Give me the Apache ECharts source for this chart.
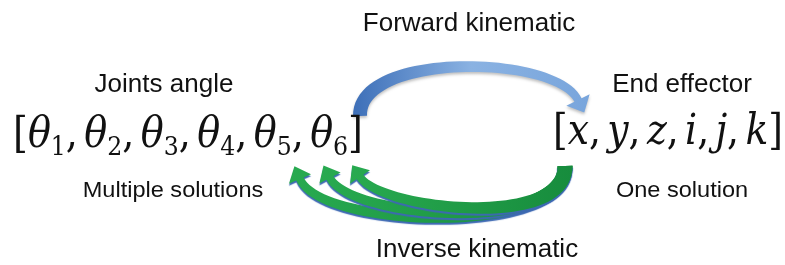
<!DOCTYPE html>
<html>
<head>
<meta charset="utf-8">
<script src="https://cdn.jsdelivr.net/npm/echarts@6/dist/echarts.min.js"></script>
<style>
html, body { margin: 0; padding: 0; background: #fff; }
#chart { width: 785px; height: 265px; }
</style>
</head>
<body>
<div id="chart"></div>
<script>
// texts of the diagram
var captions = ['Joints angle', 'End effector', 'Multiple solutions', 'One solution'];
var flowNames = ['Forward kinematic', 'Inverse kinematic'];
var jointIndex = [1, 2, 3, 4, 5, 6];
var effectorVars = ['x', 'y', 'z', 'i', 'j', 'k'];

var textColor = '#111111';
var labelFont = 'Liberation Sans';
var mathFont = 'DejaVu Serif';

var myChart = echarts.init(document.getElementById('chart'));

// cubic bezier helpers
function bez(p, t) {
  var u = 1 - t;
  return [
    u * u * u * p[0][0] + 3 * u * u * t * p[1][0] + 3 * u * t * t * p[2][0] + t * t * t * p[3][0],
    u * u * u * p[0][1] + 3 * u * u * t * p[1][1] + 3 * u * t * t * p[2][1] + t * t * t * p[3][1]
  ];
}
function bezDir(p, t) {
  var u = 1 - t;
  var dx = 3 * u * u * (p[1][0] - p[0][0]) + 6 * u * t * (p[2][0] - p[1][0]) + 3 * t * t * (p[3][0] - p[2][0]);
  var dy = 3 * u * u * (p[1][1] - p[0][1]) + 6 * u * t * (p[2][1] - p[1][1]) + 3 * t * t * (p[3][1] - p[2][1]);
  var l = Math.sqrt(dx * dx + dy * dy) || 1;
  return [dx / l, dy / l];
}
// curved arrow as one polygon: tapering shaft + triangle head
function arrowPoints(p, w0, w1, headLen, headW) {
  var n = 48, left = [], right = [];
  for (var i = 0; i <= n; i++) {
    var t = i / n;
    var pt = bez(p, t), d = bezDir(p, t);
    var w = (w0 + (w1 - w0) * t) / 2;
    left.push([pt[0] - d[1] * w, pt[1] + d[0] * w]);
    right.push([pt[0] + d[1] * w, pt[1] - d[0] * w]);
  }
  var e = p[3], d1 = bezDir(p, 1), h = headW / 2;
  var head = [
    [e[0] - d1[1] * h, e[1] + d1[0] * h],
    [e[0] + d1[0] * headLen, e[1] + d1[1] * headLen],
    [e[0] + d1[1] * h, e[1] - d1[0] * h]
  ];
  return left.concat(head, right.reverse());
}

// measure a rich string to fit the target width
var ctx = document.createElement('canvas').getContext('2d');
function richWidth(tokens) {
  var w = 0;
  tokens.forEach(function (tk) {
    ctx.font = tk[0];
    w += ctx.measureText(tk[1]).width;
  });
  return w;
}

var mathRich = {
  b: { fontFamily: mathFont, fontSize: 42, lineHeight: 50, fill: textColor },
  p: { fontFamily: mathFont, fontSize: 42, lineHeight: 50, fill: textColor },
  q: { fontFamily: mathFont, fontSize: 22, lineHeight: 50, fill: textColor },
  v: { fontFamily: mathFont, fontStyle: 'italic', fontSize: 42, lineHeight: 50, fill: textColor },
  s: { fontFamily: mathFont, fontSize: 26, lineHeight: 24, verticalAlign: 'bottom', fill: textColor }
};
var F_UP = '42px "' + mathFont + '"', F_IT = 'italic 42px "' + mathFont + '"',
    F_SUB = '26px "' + mathFont + '"', F_SP = '22px "' + mathFont + '"';

function vectorItem(left, top, width, items, tokens) {
  var text = '{b|[}' + items.join('{p|,}{q| }') + '{b|]}';
  var all = [[F_UP, '[']];
  tokens.forEach(function (tk, i) {
    if (i > 0) all.push([F_UP, ','], [F_SP, ' ']);
    all = all.concat(tk);
  });
  all.push([F_UP, ']']);
  return {
    type: 'text', x: left, y: top, scaleX: width / richWidth(all), z: 10,
    style: { text: text, x: 0, y: 0, align: 'left', verticalAlign: 'top', rich: mathRich }
  };
}

var jointItems = jointIndex.map(function (n) { return '{v|θ}{s|' + n + '}'; });
var jointTokens = jointIndex.map(function (n) { return [[F_IT, 'θ'], [F_SUB, String(n)]]; });
var effItems = effectorVars.map(function (v) { return '{v|' + v + '}'; });
var effTokens = effectorVars.map(function (v) { return [[F_IT, v]]; });

function label(text, cx, cy, size, sx) {
  return {
    type: 'text', x: cx, y: cy, scaleX: sx, z: 10,
    style: {
      text: text, x: 0, y: 0, align: 'center', verticalAlign: 'middle',
      fontFamily: labelFont, fontSize: size, fill: textColor
    }
  };
}

var blueCurve = [[360, 116], [358, 52], [555, 54], [578, 100]];
var greenCurves = [
  [[565, 166], [567, 234], [322, 230], [300, 179]],
  [[565, 166], [567, 232], [352, 220], [330, 178]],
  [[565, 166], [567, 230], [382, 210], [360, 177]]
];

var graphics = [];
graphics.push({
  type: 'polygon', z: 5,
  shape: { points: arrowPoints(blueCurve, 14, 8, 14, 26) },
  style: {
    fill: new echarts.graphic.LinearGradient(0, 0, 1, 0, [
      { offset: 0, color: '#3d6fb8' },
      { offset: 0.5, color: '#8ab2e2' },
      { offset: 1, color: '#78a5dc' }
    ]),
    shadowColor: 'rgba(0,0,0,0.25)', shadowBlur: 3, shadowOffsetY: 2
  }
});
greenCurves.forEach(function (c) {
  graphics.push({
    type: 'polygon', z: 5,
    shape: { points: arrowPoints(c, 15, 8, 14, 24) },
    style: {
      fill: new echarts.graphic.LinearGradient(0, 0, 1, 0, [
        { offset: 0, color: '#28aa50' },
        { offset: 1, color: '#178c3d' }
      ]),
      shadowColor: '#3c68b2', shadowBlur: 1, shadowOffsetY: 2
    }
  });
});

graphics.push(label(flowNames[0], 469, 24, 25, 1.04));
graphics.push(label(flowNames[1], 477, 250, 25, 1.04));
graphics.push(label(captions[0], 164, 85, 25, 1.04));
graphics.push(label(captions[1], 682, 85, 25, 1.04));
graphics.push(label(captions[2], 173, 191, 22, 1.07));
graphics.push(label(captions[3], 682, 191, 22, 1.07));
graphics.push(vectorItem(13, 111, 350, jointItems, jointTokens));
graphics.push(vectorItem(553, 108, 230, effItems, effTokens));

myChart.setOption({
  backgroundColor: '#ffffff',
  animation: false,
  graphic: { elements: graphics }
});
</script>
</body>
</html>
